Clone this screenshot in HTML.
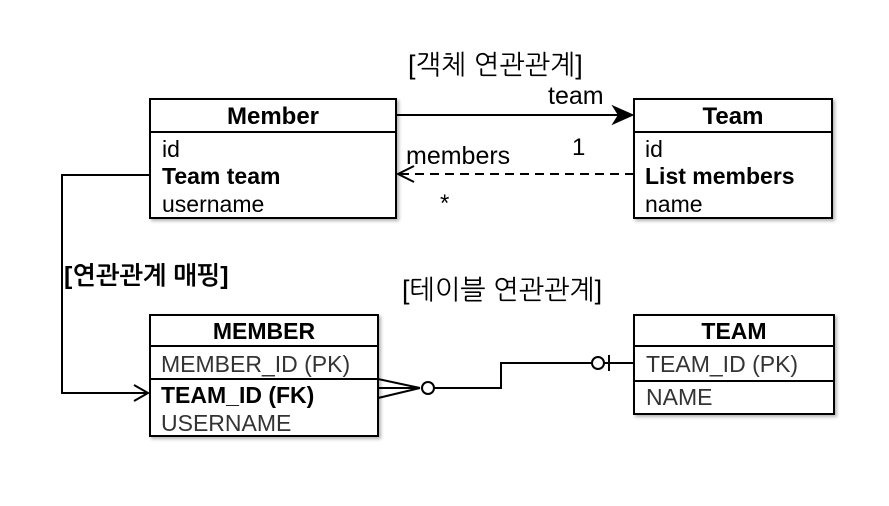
<!DOCTYPE html>
<html><head><meta charset="utf-8"><style>body{margin:0;background:#fff}</style></head><body>
<svg width="889" height="501" xmlns="http://www.w3.org/2000/svg" font-family="Liberation Sans, NanumGothic, sans-serif">
<defs><filter id="s"><feDropShadow dx="2" dy="2" stdDeviation="1.5" flood-opacity="0.3"/></filter></defs>
<g fill="#fff" stroke="#000" stroke-width="2" filter="url(#s)">
<rect x="150" y="99" width="246" height="119"/>
<rect x="634" y="99" width="198" height="119"/>
<rect x="150" y="315" width="228" height="121"/>
<rect x="634" y="315" width="200" height="99"/>
</g>
<g stroke="#000" stroke-width="2" fill="none">
<line x1="150" y1="132" x2="396" y2="132"/>
<line x1="634" y1="132" x2="832" y2="132"/>
<line x1="150" y1="346" x2="378" y2="346"/>
<line x1="150" y1="379" x2="378" y2="379"/>
<line x1="634" y1="346" x2="834" y2="346"/>
<line x1="634" y1="381" x2="834" y2="381"/>
<line x1="396" y1="115" x2="630" y2="115"/>
<path d="M614,107 L632,115 L614,123 L619,115 Z" fill="#000"/>
<line x1="634" y1="174" x2="400" y2="174" stroke-dasharray="9,6"/>
<path d="M414,166 L398,174 L414,182"/>
<path d="M150,175 H62 V393 H148"/>
<path d="M134,385 L148,393 L134,401"/>
<path d="M378,379 L420,388 M378,398 L420,388 M378,388 L420,388"/>
<circle cx="428" cy="388" r="6" fill="#fff"/>
<path d="M434,388 H501 V363 H592"/>
<circle cx="598" cy="363" r="6" fill="#fff"/>
<path d="M604,363 H634 M609,355 V371"/>
</g>
<g font-size="23" fill="#000">
<text x="408" y="74" font-size="27">[객체 연관관계]</text>
<text x="402" y="299" font-size="27">[테이블 연관관계]</text>
<text x="64" y="284" font-size="25" font-weight="bold">[연관관계 매핑]</text>
<text x="548" y="104" font-size="25">team</text>
<text x="406" y="164" font-size="25">members</text>
<text x="572" y="155" font-size="24">1</text>
<text x="440" y="211" font-size="24">*</text>
<text x="273" y="124" text-anchor="middle" font-weight="bold" font-size="24">Member</text>
<text x="162" y="157">id</text>
<text x="162" y="184" font-weight="bold">Team team</text>
<text x="162" y="212">username</text>
<text x="733" y="124" text-anchor="middle" font-weight="bold" font-size="24">Team</text>
<text x="645" y="157">id</text>
<text x="645" y="184" font-weight="bold">List members</text>
<text x="645" y="212">name</text>
<text x="264" y="339" text-anchor="middle" font-weight="bold">MEMBER</text>
<text x="161" y="372" fill="#333">MEMBER_ID (PK)</text>
<text x="161" y="403" font-weight="bold">TEAM_ID (FK)</text>
<text x="161" y="431" fill="#333">USERNAME</text>
<text x="734" y="339" text-anchor="middle" font-weight="bold">TEAM</text>
<text x="646" y="372" fill="#333">TEAM_ID (PK)</text>
<text x="646" y="405" fill="#333">NAME</text>
</g>
</svg>
</body></html>
